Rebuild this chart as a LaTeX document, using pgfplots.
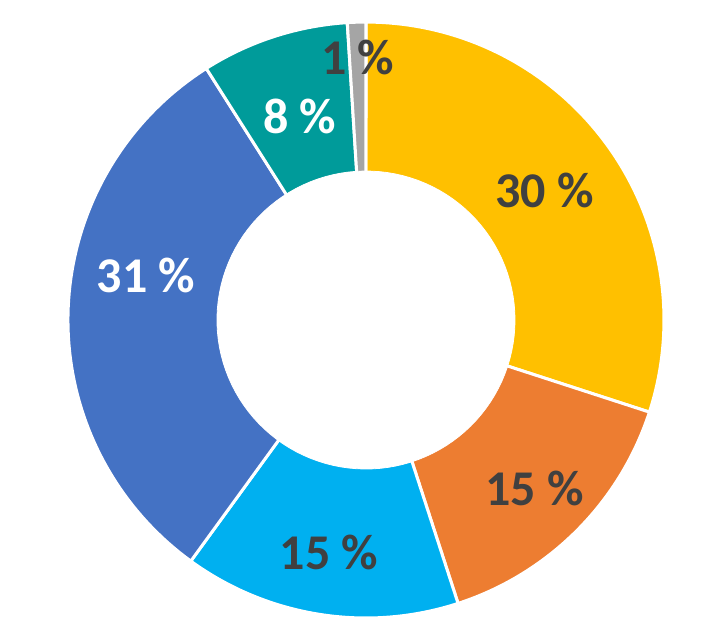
\documentclass[border=0pt]{standalone}
\usepackage{pgfplots}
\pgfplotsset{compat=1.18}
\usepackage{fontspec}
\setmainfont{Carlito}
\definecolor{cYellow}{HTML}{FFC000}
\definecolor{cOrange}{HTML}{ED7D31}
\definecolor{cLBlue}{HTML}{00B0F0}
\definecolor{cBlue}{HTML}{4472C4}
\definecolor{cTeal}{HTML}{009B9A}
\definecolor{cGrey}{HTML}{A5A5A5}
\definecolor{cText}{HTML}{404040}
% slice: #1 cumulative start (%), #2 value (%), #3 colour
\newcommand{\slice}[3]{%
  \addplot[fill=#3, draw=white, line width=1.5pt, line join=round,
    domain={90-3.6*(#1+#2)}:{90-3.6*(#1)}, samples=80]
    ({cos(x)},{sin(x)}) -- (axis cs:0,0) -- cycle;
}
\newcommand{\slicelabel}[5]{% start, value, radius, colour, text
  \node[text=#4, font=\fontsize{25}{28}\selectfont\bfseries]
    at (axis cs:{#3*cos(90-3.6*(#1+#2/2))},{#3*sin(90-3.6*(#1+#2/2))}) {#5};
}
\begin{document}
\begin{tikzpicture}
\begin{axis}[
  hide axis, scale only axis,
  width=361.5pt, height=319.5pt,
  xmin=-1.228, xmax=1.198, ymin=-1.0705, ymax=1.074,
  clip=false]
\path (rel axis cs:0,0) rectangle (rel axis cs:1,1);
\slice{0}{30}{cYellow}
\slice{30}{15}{cOrange}
\slice{45}{15}{cLBlue}
\slice{60}{31}{cBlue}
\slice{91}{8}{cTeal}
\slice{99}{1}{cGrey}
\addplot[fill=white, draw=white, domain=0:360, samples=120]
  ({0.5*cos(x)},{0.5*sin(x)}) -- cycle;
\slicelabel{0}{30}{0.74}{cText}{30 \%}
\slicelabel{30}{15}{0.80}{cText}{15 \%}
\slicelabel{45}{15}{0.79}{cText}{15 \%}
\node[text=white, font=\fontsize{25}{28}\selectfont\bfseries] at (axis cs:-0.738,0.148) {31 \%};
\slicelabel{91}{8}{0.72}{white}{8 \%}
\slicelabel{99}{1}{0.88}{cText}{1 \%}
\end{axis}
\end{tikzpicture}
\end{document}
